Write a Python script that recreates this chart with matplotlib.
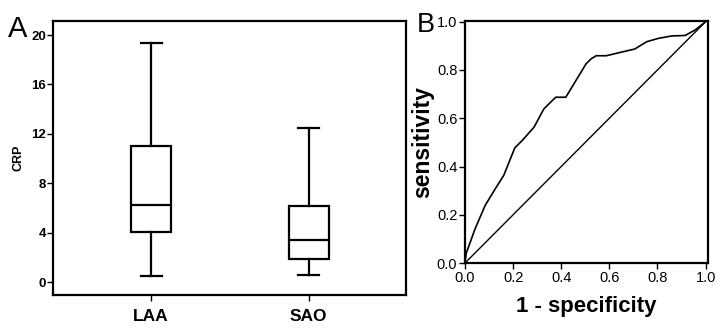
import matplotlib
matplotlib.use("Agg")
import matplotlib.pyplot as plt

plt.rcParams['font.family'] = ['Liberation Sans', 'DejaVu Sans']

# Panel A: box plot statistics of CRP
groups = ["LAA", "SAO"]
whislo = [0.49, 0.57]
q1 = [4.02, 1.89]
med = [6.26, 3.40]
q3 = [11.04, 6.13]
whishi = [19.33, 12.44]
crp_ticks = [0, 4, 8, 12, 16, 20]

# Panel B: ROC curve
fpr = [0.0, 0.005, 0.042, 0.084, 0.126, 0.161, 0.207, 0.238, 0.287, 0.328,
       0.377, 0.419, 0.461, 0.503, 0.524, 0.545, 0.587, 0.706, 0.755, 0.804,
       0.859, 0.915, 0.957, 1.0]
tpr = [0.0, 0.04, 0.142, 0.239, 0.308, 0.363, 0.477, 0.508, 0.563, 0.639,
       0.687, 0.687, 0.756, 0.825, 0.846, 0.859, 0.859, 0.887, 0.917, 0.931,
       0.941, 0.943, 0.966, 1.0]
roc_ticks = [0.0, 0.2, 0.4, 0.6, 0.8, 1.0]

fig = plt.figure(figsize=(7.2, 3.28), dpi=100)

# ---------- Panel A ----------
axA = fig.add_axes([0.0736, 0.1006, 0.490, 0.835])
stats = []
for i, g in enumerate(groups):
    stats.append(dict(label=g, whislo=whislo[i], q1=q1[i], med=med[i],
                      q3=q3[i], whishi=whishi[i], fliers=[]))
lw = 1.6
axA.bxp(stats, positions=[1, 2], widths=0.253, capwidths=0.133,
        showfliers=False, patch_artist=True,
        boxprops=dict(facecolor='white', edgecolor='black', linewidth=lw),
        medianprops=dict(color='black', linewidth=lw),
        whiskerprops=dict(color='black', linewidth=lw),
        capprops=dict(color='black', linewidth=lw))
axA.set_xlim(0.378, 2.615)
axA.set_ylim(-1.05, 21.13)
axA.set_yticks(crp_ticks)
axA.set_yticklabels([str(t) for t in crp_ticks], fontweight='bold', fontsize=9.5)
axA.set_xticks([1, 2])
axA.set_xticklabels(groups, fontweight='bold', fontsize=12.5)
axA.tick_params(axis='y', length=4, width=1, pad=1)
axA.tick_params(axis='x', length=4, width=1, pad=6)
axA.set_ylabel("CRP", fontweight='bold', fontsize=9, labelpad=5)
for s in axA.spines.values():
    s.set_linewidth(1.6)
fig.text(8 / 720, 1 - 37 / 328, "A", fontsize=21, ha='left', va='baseline')

# ---------- Panel B ----------
axB = fig.add_axes([0.6458, 0.198, 0.3375, 0.738])
axB.plot(fpr, tpr, color='black', linewidth=1.2)
axB.plot([0, 1], [0, 1], color='black', linewidth=1.0)
axB.set_xlim(0, 1.01)
axB.set_ylim(0, 1.003)
axB.set_xticks(roc_ticks)
axB.set_yticks(roc_ticks)
axB.set_xticklabels([f"{t:.1f}" for t in roc_ticks], fontsize=10.5)
axB.set_yticklabels([f"{t:.1f}" for t in roc_ticks], fontsize=10.5)
axB.tick_params(length=4, width=1, pad=1.5)
axB.set_xlabel("1 - specificity", fontweight='bold', fontsize=16, labelpad=8)
axB.set_ylabel("sensitivity", fontweight='bold', fontsize=16.5, labelpad=2)
for s in axB.spines.values():
    s.set_linewidth(1.6)
fig.text(417 / 720, 1 - 32 / 328, "B", fontsize=19.5, ha='left', va='baseline')

fig.savefig("out.png", dpi=100)
